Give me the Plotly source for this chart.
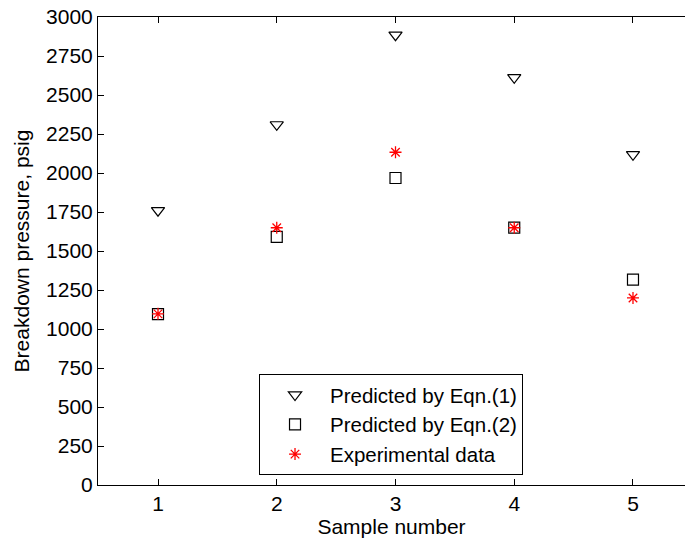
import plotly.graph_objects as go

# Breakdown pressure for five samples (psig)
samples = [1, 2, 3, 4, 5]
eqn1_pred = [1760, 2310, 2885, 2612, 2118]
eqn2_pred = [1095, 1590, 1968, 1650, 1316]
experimental = [1097, 1649, 2133, 1649, 1199]

x_ticks = [1, 2, 3, 4, 5]
y_ticks = [0, 250, 500, 750, 1000, 1250, 1500, 1750, 2000, 2250, 2500, 2750, 3000]

FONT = "Liberation Sans, Arial, Helvetica, sans-serif"

fig = go.Figure()
fig.add_trace(go.Scatter(
    x=samples, y=eqn1_pred, mode="markers", name="Predicted by Eqn.(1)",
    marker=dict(symbol="triangle-down-open", size=11.5, color="black",
                line=dict(width=1.2, color="black")),
))
fig.add_trace(go.Scatter(
    x=samples, y=eqn2_pred, mode="markers", name="Predicted by Eqn.(2)",
    marker=dict(symbol="square-open", size=11, color="black",
                line=dict(width=1.2, color="black")),
))
fig.add_trace(go.Scatter(
    x=samples, y=experimental, mode="markers", name="Experimental data",
    marker=dict(symbol="asterisk-open", size=10, color="red",
                line=dict(width=1.3, color="red")),
))

fig.update_layout(
    width=685, height=542,
    margin=dict(l=98, r=0, t=17, b=57),
    paper_bgcolor="white", plot_bgcolor="white",
    font=dict(family=FONT, size=21, color="black"),
    showlegend=True,
    legend=dict(
        x=0.2743, y=0.2372, xanchor="left", yanchor="top",
        bgcolor="white", bordercolor="black", borderwidth=1,
        font=dict(family=FONT, size=20.5, color="black"),
        itemwidth=60,
    ),
    xaxis=dict(
        range=[0.4947, 5.438], tickvals=x_ticks, ticktext=[str(v) for v in x_ticks],
        showgrid=False, zeroline=False, showline=True, linecolor="black", linewidth=1,
        ticks="inside", ticklen=6, tickcolor="black", mirror="ticks",
        title=dict(text="Sample number", standoff=4, font=dict(family=FONT, size=21)),
        tickfont=dict(size=21),
    ),
    yaxis=dict(
        range=[0, 3000], tickvals=y_ticks, ticktext=[str(v) for v in y_ticks],
        showgrid=False, zeroline=False, showline=True, linecolor="black", linewidth=1,
        ticks="inside", ticklen=6, tickcolor="black",
        title=dict(text="Breakdown pressure, psig", standoff=10, font=dict(family=FONT, size=21)),
        tickfont=dict(size=21),
    ),
)

fig.write_html("out.html")
